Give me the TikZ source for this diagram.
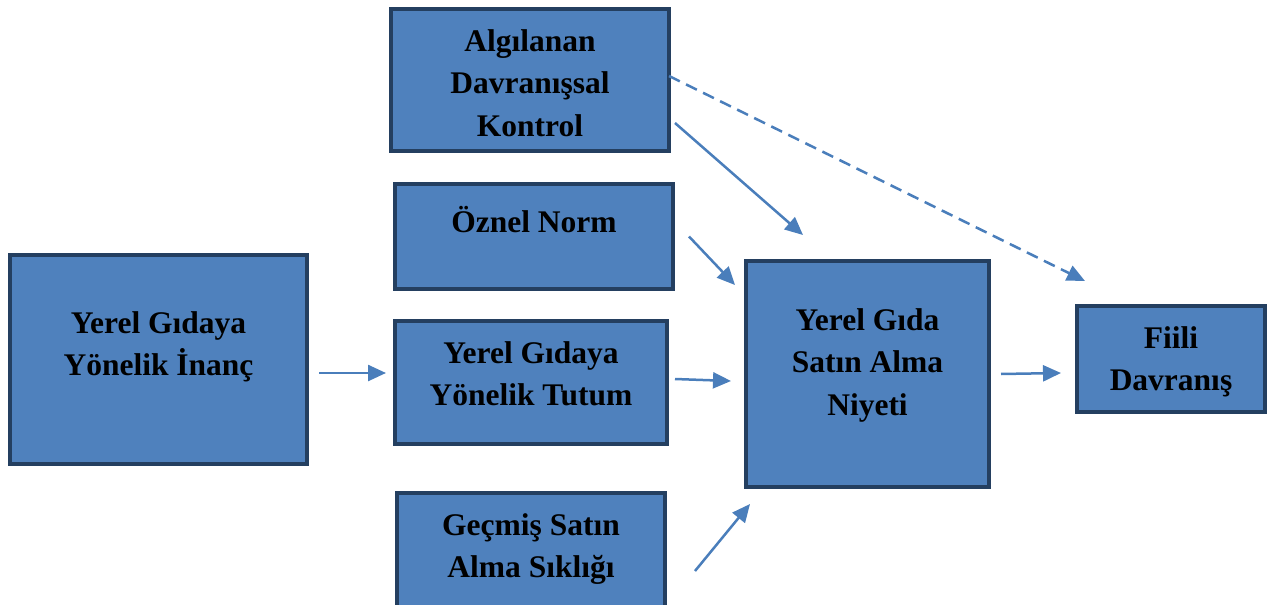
\documentclass[tikz,border=0pt]{standalone}
\usepackage{fontspec}
\setmainfont{Liberation Serif}
\usetikzlibrary{arrows.meta}
\definecolor{boxfill}{HTML}{4F81BD}
\definecolor{boxline}{HTML}{243F60}
\definecolor{arrowblue}{HTML}{4A7EBB}
\tikzset{
  flowbox/.style={draw=boxline, line width=4pt, fill=boxfill, inner sep=0pt},
  boxtext/.style={align=center, inner sep=0pt,
    font=\bfseries\fontsize{31.5}{42.5}\selectfont},
  arr/.style={-{Triangle[length=18pt,width=16pt]}, line width=2.5pt, draw=arrowblue},
  dasharr/.style={arr, dash pattern=on 12pt off 7pt}
}
\begin{document}
\begin{tikzpicture}[x=1pt,y=1pt]
    \useasboundingbox (0,0) rectangle (1278,-605);
    % boxes
    \node[flowbox, minimum width=297, minimum height=209] (inanc) at (158.5,-359.5) {};
    \node[flowbox, minimum width=278, minimum height=142] (adk) at (530,-80) {};
    \node[flowbox, minimum width=278, minimum height=105] (norm) at (534,-236.5) {};
    \node[flowbox, minimum width=272, minimum height=123] (tutum) at (531,-382.5) {};
    \node[flowbox, minimum width=268, minimum height=125] (gecmis) at (531,-555.5) {};
    \node[flowbox, minimum width=243, minimum height=226] (niyet) at (867.5,-374) {};
    \node[flowbox, minimum width=188, minimum height=106] (fiili) at (1171,-359) {};
    % texts
    \node[boxtext] (inanc-t) at ([yshift=12.5]inanc.center) {Yerel Gıdaya\\Yönelik İnanç};
    \node[boxtext] (adk-t) at ([yshift=-3]adk.center) {Algılanan\\Davranışsal\\Kontrol};
    \node[boxtext] (norm-t) at ([yshift=17]norm.center) {Öznel Norm};
    \node[boxtext] (tutum-t) at ([yshift=8.5]tutum.center) {Yerel Gıdaya\\Yönelik Tutum};
    \node[boxtext] (gecmis-t) at ([yshift=6.5]gecmis.center) {Geçmiş Satın\\Alma Sıklığı};
    \node[boxtext] (niyet-t) at ([yshift=9]niyet.center) {Yerel Gıda\\Satın Alma\\Niyeti};
    \node[boxtext] (fiili-t) at ([yshift=-3]fiili.center) {Fiili\\Davranış};
    % arrows
    \draw[arr] ([shift={(10,-13.5)}]inanc.east) -- ([shift={(-7,9.5)}]tutum.west);
    \draw[arr] ([shift={(4,-43)}]adk.east) -- ([shift={(-64.5,24)}]niyet.north);
    \draw[dasharr] ([shift={(-2,4)}]adk.east) -- ([shift={(-86,23)}]fiili.north);
    \draw[arr] ([shift={(14,0)}]norm.east) -- ([shift={(-9,89)}]niyet.west);
    \draw[arr] ([shift={(6,3.5)}]tutum.east) -- ([shift={(-13,-7)}]niyet.west);
    \draw[arr] ([shift={(28,-15.5)}]gecmis.east) -- ([shift={(-117.5,-15)}]niyet.south);
    \draw[arr] ([shift={(10,0)}]niyet.east) -- ([shift={(-14,-14)}]fiili.west);
\end{tikzpicture}
\end{document}
